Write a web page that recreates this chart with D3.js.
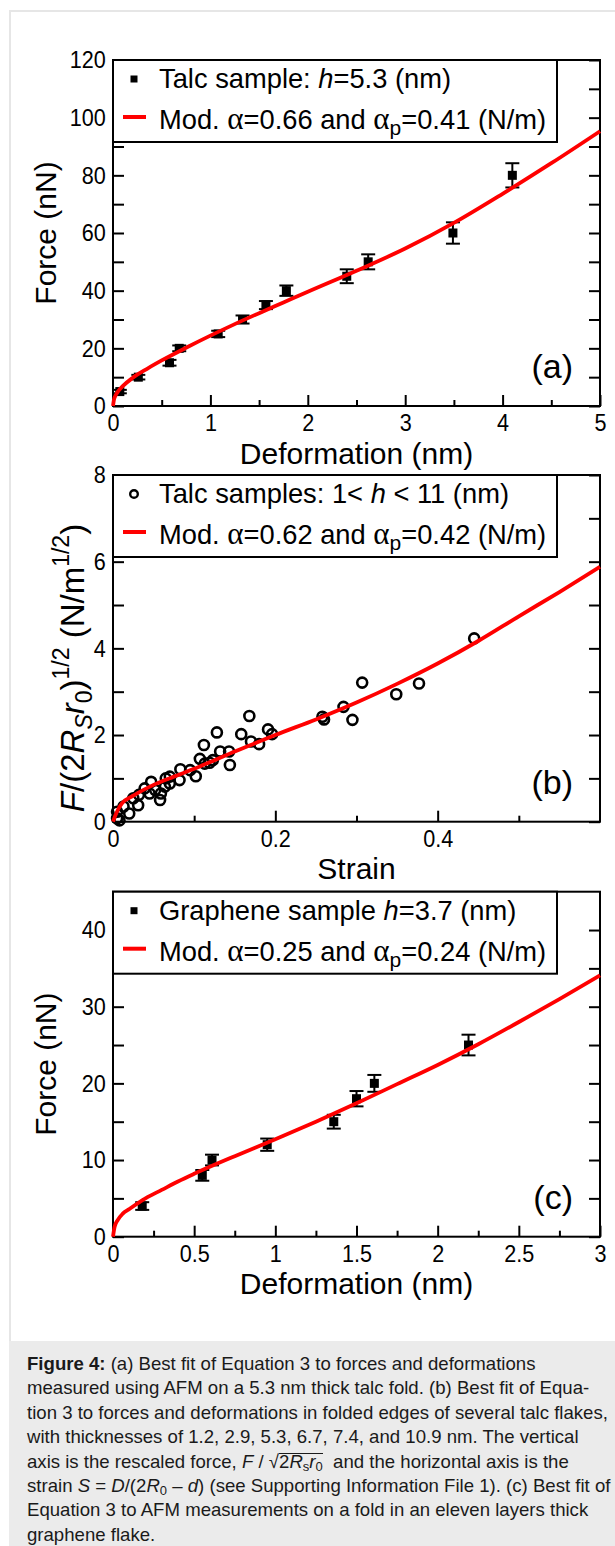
<!DOCTYPE html>
<html>
<head>
<meta charset="utf-8">
<script src="https://cdn.jsdelivr.net/npm/d3@7"></script>
<style>
body { margin: 0; background: #fff; }
#page { position: relative; width: 615px; height: 1546px; overflow: hidden; }
#frame { position: absolute; left: 9px; top: 10px; width: 640px; height: 1600px; border: 2px solid #e6e6e6; box-sizing: border-box; }
#page svg { position: absolute; left: 0; top: 0; }
#caption { position: absolute; left: 9px; top: 1341px; width: 620px; height: 220px; background: #ebebeb;
  font-family: 'Liberation Sans', Arial, sans-serif; font-size: 18.6px; line-height: 24.4px; color: #1a1a1a;
  padding: 11px 0 0 18px; box-sizing: border-box; white-space: nowrap; }
#caption sub { font-size: 13px; line-height: 0; vertical-align: -3px; }
.root { display: inline-block; line-height: 16px; border-top: 1px solid #1a1a1a; }
</style>
</head>
<body>
<div id="page">
  <div id="frame"></div>
  <div id="caption">
    <b>Figure 4:</b> (a) Best fit of Equation 3 to forces and deformations<br>
    measured using AFM on a 5.3 nm thick talc fold. (b) Best fit of Equa-<br>
    tion 3 to forces and deformations in folded edges of several talc flakes,<br>
    with thicknesses of 1.2, 2.9, 5.3, 6.7, 7.4, and 10.9 nm. The vertical<br>
    axis is the rescaled force, <i>F</i> / &radic;<span class="root">2<i>R</i><sub>s</sub><i>r</i><sub>0</sub></span>&nbsp; and the horizontal axis is the<br>
    strain <i>S</i> = <i>D</i>/(2<i>R</i><sub>0</sub> &ndash; <i>d</i>) (see Supporting Information File 1). (c) Best fit of<br>
    Equation 3 to AFM measurements on a fold in an eleven layers thick<br>
    graphene flake.
  </div>
</div>
<script>
// (a) talc fold, h = 5.3 nm
const aDef   = [0.07, 0.26, 0.58, 0.68, 1.08, 1.33, 1.57, 1.78, 2.40, 2.62, 3.49, 4.10];
const aForce = [5, 10, 15, 20, 25, 30, 35, 40, 45, 50, 60, 80];
const aErr   = [0.6, 0.8, 1.0, 1.0, 1.1, 1.4, 1.4, 1.8, 2.4, 2.6, 3.7, 4.2];
const aFitX  = [0, 0.01, 0.03, 0.06, 0.1, 0.2, 0.35, 0.5, 0.75, 1, 1.25, 1.5, 1.75, 2, 2.5, 3, 3.5, 4, 4.5, 5];
const aFitY  = [0, 2.2, 3.9, 5.4, 6.9, 9.7, 12.9, 15.8, 20.2, 24.4, 28.4, 32.2, 35.9, 39.6, 46.9, 54.6, 63.5, 73.6, 84.2, 95.3];
const aXTicks = [0, 1, 2, 3, 4, 5];
const aXMinor = [0.5, 1.5, 2.5, 3.5, 4.5];
const aYTicks = [0, 20, 40, 60, 80, 100, 120];
const aYMinor = [10, 30, 50, 70, 90, 110];

// (b) rescaled force vs strain, several talc samples
const bStrain = [0.168, 0.128, 0.158, 0.191, 0.196, 0.170, 0.180, 0.112, 0.132, 0.143, 0.144, 0.107, 0.119,
  0.102, 0.095, 0.083, 0.082, 0.070, 0.065, 0.047, 0.039, 0.059, 0.058, 0.025, 0.031, 0.020, 0.013, 0.005,
  0.005, 0.008, 0.052, 0.045, 0.032, 0.064, 0.070, 0.113, 0.123,
  0.258, 0.260, 0.284, 0.295, 0.307, 0.349, 0.377, 0.445];
const bForce = [2.44, 2.06, 2.02, 2.13, 2.02, 1.85, 1.79, 1.77, 1.62, 1.62, 1.31, 1.45, 1.36,
  1.05, 1.19, 1.21, 0.96, 1.04, 1.00, 0.92, 0.77, 0.65, 0.50, 0.54, 0.38, 0.19, 0.35, 0.23,
  0.08, 0.03, 0.73, 0.65, 0.62, 0.81, 0.88, 1.34, 1.42,
  2.42, 2.36, 2.65, 2.35, 3.21, 2.94, 3.19, 4.23];
const bFitX = [0, 0.003, 0.006, 0.011, 0.025, 0.05, 0.075, 0.1, 0.125, 0.15, 0.175, 0.2, 0.25, 0.3, 0.35, 0.4, 0.45, 0.5, 0.55, 0.6];
const bFitY = [0, 0.15, 0.27, 0.42, 0.6, 0.85, 1.04, 1.22, 1.42, 1.62, 1.81, 2.0, 2.36, 2.75, 3.18, 3.65, 4.17, 4.74, 5.3, 5.88];
const bXTicks = [0, 0.2, 0.4];
const bXMinor = [0.1, 0.3, 0.5];
const bYTicks = [0, 2, 4, 6, 8];
const bYMinor = [1, 3, 5, 7];

// (c) graphene fold, h = 3.7 nm
const cDef   = [0.18, 0.55, 0.61, 0.95, 1.36, 1.50, 1.61, 2.19];
const cForce = [4, 8, 10, 12, 15, 18, 20, 25];
const cErr   = [0.5, 0.7, 0.7, 0.8, 0.9, 1.0, 1.1, 1.35];
const cFitX  = [0, 0.01, 0.03, 0.06, 0.1, 0.2, 0.3, 0.4, 0.5, 0.75, 1, 1.25, 1.5, 1.75, 2, 2.25, 2.5, 2.75, 3];
const cFitY  = [0, 1.3, 2.2, 3.0, 3.6, 5.0, 6.1, 7.2, 8.2, 10.5, 12.7, 15.0, 17.4, 19.9, 22.4, 25.1, 28.0, 31.0, 34.1];
const cXTicks = [0, 0.5, 1, 1.5, 2, 2.5, 3];
const cXMinor = [0.25, 0.75, 1.25, 1.75, 2.25, 2.75];
const cYTicks = [0, 10, 20, 30, 40];
const cYMinor = [5, 15, 25, 35];

const L = 113, R = 600;
const font = "'Liberation Sans', Arial, sans-serif";
const sym = "'Liberation Serif', 'DejaVu Serif', serif";

const svg = d3.select("#page").append("svg").attr("width", 615).attr("height", 1340);

function ticks(g, axis, tr) {
  const a = g.append("g").attr("transform", tr).call(axis);
  a.select(".domain").remove();
  a.selectAll("line").attr("stroke", "#000").attr("stroke-width", 2);
  // the original tick digits are a bit condensed
  a.selectAll("text").attr("font-family", font).attr("font-size", 24).attr("fill", "#000")
    .attr("transform", "scale(0.9,1)");
  return a;
}

// rich text: parts = [[string, kind]], kind: "", "i", "sub", "isub", "sup", "a"
function rich(t, parts, small) {
  let cur = 0;
  parts.forEach(([s, k]) => {
    const off = (k == "sub" || k == "isub") ? small.sub : (k == "sup" ? small.sup : 0);
    const ts = t.append("tspan").text(s).attr("dy", off - cur);
    cur = off;
    if (k == "i" || k == "isub") ts.attr("font-style", "italic");
    if (k == "sub" || k == "isub" || k == "sup") ts.attr("font-size", small.size);
    if (k == "a") ts.attr("font-family", sym).attr("font-size", small.alpha);
  });
}

function panel(top, bottom, xDom, yDom, xt, xm, yt, ym) {
  const x = d3.scaleLinear().domain(xDom).range([L, R]);
  const y = d3.scaleLinear().domain(yDom).range([bottom, top]);
  const g = svg.append("g");
  ticks(g, d3.axisBottom(x).tickValues(xt).tickFormat(d => d).tickSize(-11).tickPadding(8), `translate(0,${bottom})`);
  ticks(g, d3.axisBottom(x).tickValues(xm).tickFormat("").tickSize(-6), `translate(0,${bottom})`);
  ticks(g, d3.axisLeft(y).tickValues(yt).tickFormat(d => d).tickSize(-11).tickPadding(8), `translate(${L},0)`);
  ticks(g, d3.axisLeft(y).tickValues(ym).tickFormat("").tickSize(-11), `translate(${L},0)`);
  ticks(g, d3.axisRight(y).tickValues(yt.concat(ym)).tickFormat("").tickSize(-11), `translate(${R},0)`);
  g.append("rect").attr("x", L).attr("y", top).attr("width", R - L).attr("height", bottom - top)
    .attr("fill", "none").attr("stroke", "#000").attr("stroke-width", 2);
  return {g, x, y, top, bottom};
}

function xTitle(p, s) {
  p.g.append("text").attr("x", (L + R) / 2).attr("y", p.bottom + 57.5).attr("text-anchor", "middle")
    .attr("font-family", font).attr("font-size", 30).text(s);
}

function tag(p, s) {
  p.g.append("text").attr("x", 573).attr("y", p.bottom - 28).attr("text-anchor", "end")
    .attr("font-family", font).attr("font-size", 34).text(s);
}

function errorPoints(p, xs, ys, es) {
  const pts = xs.map((d, i) => ({d, f: ys[i], e: es[i]}));
  const eb = p.g.append("g").attr("stroke", "#000").attr("stroke-width", 2);
  eb.selectAll(".v").data(pts).enter().append("line")
    .attr("x1", d => p.x(d.d)).attr("x2", d => p.x(d.d))
    .attr("y1", d => p.y(d.f - d.e)).attr("y2", d => p.y(d.f + d.e));
  [-1, 1].forEach(sgn => {
    eb.selectAll(".c" + sgn).data(pts).enter().append("line")
      .attr("x1", d => p.x(d.d) - 7).attr("x2", d => p.x(d.d) + 7)
      .attr("y1", d => p.y(d.f + sgn * d.e)).attr("y2", d => p.y(d.f + sgn * d.e));
  });
  p.g.append("g").selectAll("rect").data(pts).enter().append("rect")
    .attr("x", d => p.x(d.d) - 4.5).attr("y", d => p.y(d.f) - 4.5)
    .attr("width", 9).attr("height", 9).attr("fill", "#000");
}

function fit(p, xs, ys) {
  const line = d3.line().x(d => p.x(d[0])).y(d => p.y(d[1])).curve(d3.curveMonotoneX);
  p.g.append("path").datum(xs.map((v, i) => [v, ys[i]])).attr("d", line)
    .attr("fill", "none").attr("stroke", "#ff0000").attr("stroke-width", 3.8);
}

function legend(p, marker, row1, row2) {
  const top = p.top;
  p.g.append("rect").attr("x", L).attr("y", top).attr("width", 444).attr("height", 82)
    .attr("fill", "#fff").attr("stroke", "#000").attr("stroke-width", 2);
  if (marker == "square") {
    p.g.append("rect").attr("x", 130.5).attr("y", top + 15.5).attr("width", 7).attr("height", 7).attr("fill", "#000");
  } else {
    p.g.append("circle").attr("cx", 134).attr("cy", top + 19).attr("r", 3.8)
      .attr("fill", "none").attr("stroke", "#000").attr("stroke-width", 2.4);
  }
  p.g.append("line").attr("x1", 123).attr("x2", 146).attr("y1", top + 57).attr("y2", top + 57)
    .attr("stroke", "#ff0000").attr("stroke-width", 4);
  const sz = {size: 21, sub: 6, sup: -12, alpha: 31};
  const t1 = p.g.append("text").attr("x", 159).attr("y", top + 28).attr("font-family", font).attr("font-size", 27.3);
  rich(t1, row1, sz);
  const t2 = p.g.append("text").attr("x", 159).attr("y", top + 69).attr("font-family", font).attr("font-size", 27.3);
  rich(t2, row2, sz);
}

function modRow(a, ap) {
  return [["Mod. ", ""], ["\u03b1", "a"], ["=" + a + " and ", ""], ["\u03b1", "a"], ["p", "sub"], ["=" + ap + " (N/m)", ""]];
}

// ---- panel (a) ----
const pa = panel(60, 406, [0, 5], [0, 120], aXTicks, aXMinor, aYTicks, aYMinor);
errorPoints(pa, aDef, aForce, aErr);
fit(pa, aFitX, aFitY);
legend(pa, "square", [["Talc sample: ", ""], ["h", "i"], ["=5.3 (nm)", ""]], modRow("0.66", "0.41"));
xTitle(pa, "Deformation (nm)");
pa.g.append("text").attr("transform", `translate(56,${(pa.top + pa.bottom) / 2}) rotate(-90)`)
  .attr("text-anchor", "middle").attr("font-family", font).attr("font-size", 30).text("Force (nN)");
tag(pa, "(a)");

// ---- panel (b) ----
const pb = panel(475, 821.7, [0, 0.6], [0, 8], bXTicks, bXMinor, bYTicks, bYMinor);
pb.g.append("g").selectAll("circle").data(bStrain.map((s, i) => [s, bForce[i]])).enter().append("circle")
  .attr("cx", d => pb.x(d[0])).attr("cy", d => pb.y(d[1])).attr("r", 5)
  .attr("fill", "none").attr("stroke", "#000").attr("stroke-width", 2.6);
fit(pb, bFitX, bFitY);
legend(pb, "circle", [["Talc samples: 1< ", ""], ["h", "i"], [" < 11 (nm)", ""]], modRow("0.62", "0.42"));
xTitle(pb, "Strain");
const yb = pb.g.append("text").attr("transform", "translate(84,668) rotate(-90)")
  .attr("text-anchor", "middle").attr("font-family", font).attr("font-size", 33);
rich(yb, [["F", "i"], ["/(2", ""], ["R", "i"], ["S", "isub"], ["r", "i"], ["0", "sub"], [")", ""],
  ["1/2", "sup"], [" (N/m", ""], ["1/2", "sup"], [")", ""]], {size: 23, sub: 8, sup: -15});
tag(pb, "(b)");

// ---- panel (c) ----
const pc = panel(891.7, 1236.7, [0, 3], [0, 45], cXTicks, cXMinor, cYTicks, cYMinor);
errorPoints(pc, cDef, cForce, cErr);
fit(pc, cFitX, cFitY);
legend(pc, "square", [["Graphene sample ", ""], ["h", "i"], ["=3.7 (nm)", ""]], modRow("0.25", "0.24"));
xTitle(pc, "Deformation (nm)");
pc.g.append("text").attr("transform", `translate(56,${(pc.top + pc.bottom) / 2}) rotate(-90)`)
  .attr("text-anchor", "middle").attr("font-family", font).attr("font-size", 30).text("Force (nN)");
tag(pc, "(c)");
</script>
</body>
</html>
